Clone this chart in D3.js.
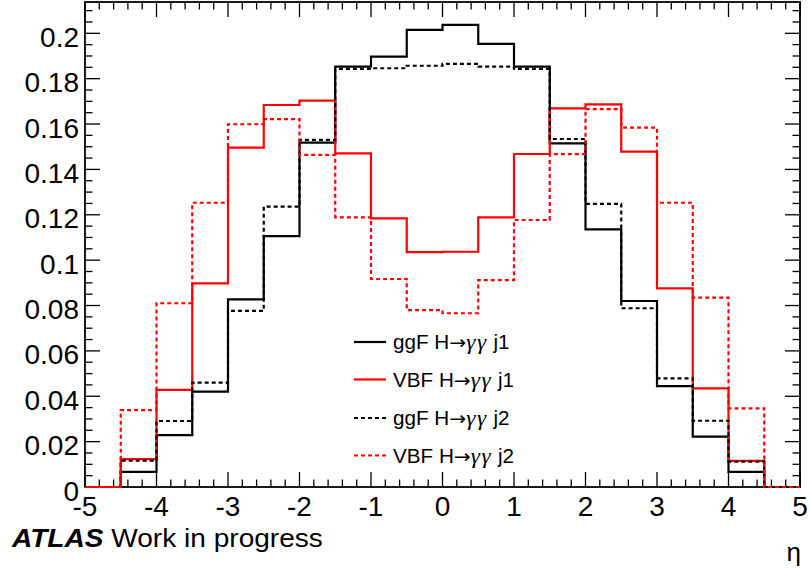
<!DOCTYPE html>
<html>
<head>
<meta charset="utf-8">
<script src="https://cdn.jsdelivr.net/npm/d3@7"></script>
<style>
  html, body { margin: 0; padding: 0; background: #fff; }
  svg { display: block; font-family: "Liberation Sans", Arial, sans-serif; }
</style>
</head>
<body>
<svg id="chart" width="810" height="571"></svg>
<script>
// ---- data ----
const binEdges = [-5, -4.5, -4, -3.5, -3, -2.5, -2, -1.5, -1, -0.5, 0, 0.5, 1, 1.5, 2, 2.5, 3, 3.5, 4, 4.5, 5];
const ggF_j1 = [0, 0.0067, 0.0229, 0.0420, 0.0827, 0.1106, 0.1518, 0.1853, 0.1897, 0.2015, 0.2037, 0.1953, 0.1853, 0.1515, 0.1136, 0.0820, 0.0445, 0.0222, 0.0067, 0];
const VBF_j1 = [0, 0.0123, 0.0428, 0.0898, 0.1496, 0.1684, 0.1703, 0.1471, 0.1184, 0.1035, 0.1037, 0.1189, 0.1468, 0.1669, 0.1687, 0.1478, 0.0876, 0.0435, 0.0115, 0];
const ggF_j2 = [0, 0.0116, 0.0291, 0.0460, 0.0776, 0.1236, 0.1530, 0.1843, 0.1846, 0.1857, 0.1865, 0.1853, 0.1843, 0.1534, 0.1248, 0.0788, 0.0479, 0.0292, 0.0112, 0];
const VBF_j2 = [0, 0.0339, 0.0810, 0.1253, 0.1599, 0.1622, 0.1464, 0.1189, 0.0917, 0.0780, 0.0766, 0.0912, 0.1177, 0.1467, 0.1666, 0.1584, 0.1253, 0.0835, 0.0347, 0];
const seriesProcess = ["ggF", "VBF", "ggF", "VBF"];
const seriesJet = ["j1", "j1", "j2", "j2"];
const xTickLabels = [-5, -4, -3, -2, -1, 0, 1, 2, 3, 4, 5];
const yTickLabels = [0, 0.02, 0.04, 0.06, 0.08, 0.1, 0.12, 0.14, 0.16, 0.18, 0.2];

// ---- layout ----
const L = 85, R = 800, T = 2, B = 487;
const svg = d3.select("#chart");
const x = d3.scaleLinear().domain([-5, 5]).range([L, R]);
const y = d3.scaleLinear().domain([0, 0.2138]).range([B, T]);

const series = [
  { values: ggF_j1, color: "#000", dash: null },
  { values: VBF_j1, color: "#ff0000", dash: null },
  { values: ggF_j2, color: "#000", dash: "4,3" },
  { values: VBF_j2, color: "#ff0000", dash: "4,3" }
];

// ---- axes (ROOT-style ticks on all sides) ----
const axG = svg.append("g").attr("stroke", "#000").attr("stroke-width", 1.3);
const xMinor = d3.range(-5, 5.0001, 0.2);
xMinor.forEach(v => {
  const isMajor = Math.abs(v - Math.round(v)) < 1e-6;
  const len = isMajor ? 15 : 7.5;
  axG.append("line").attr("x1", x(v)).attr("x2", x(v)).attr("y1", B).attr("y2", B - len);
  axG.append("line").attr("x1", x(v)).attr("x2", x(v)).attr("y1", T).attr("y2", T + len);
});
const yMinor = d3.range(0, 0.2101, 0.005);
yMinor.forEach(v => {
  const isMajor = Math.abs(v / 0.02 - Math.round(v / 0.02)) < 1e-6;
  const len = isMajor ? 15 : 7.5;
  axG.append("line").attr("x1", L).attr("x2", L + len).attr("y1", y(v)).attr("y2", y(v));
  axG.append("line").attr("x1", R).attr("x2", R - len).attr("y1", y(v)).attr("y2", y(v));
});
svg.append("rect").attr("x", L).attr("y", T).attr("width", R - L).attr("height", B - T)
  .attr("fill", "none").attr("stroke", "#000").attr("stroke-width", 1.8);

// ---- histograms ----
const clipId = "plotclip";
svg.append("clipPath").attr("id", clipId).append("rect")
  .attr("x", L).attr("y", T).attr("width", R - L).attr("height", B - T + 1.5);

const line = d3.line().x(d => x(d[0])).y(d => y(d[1])).curve(d3.curveStepAfter);
const g = svg.append("g").attr("clip-path", `url(#${clipId})`);
series.forEach(s => {
  const pts = s.values.map((v, i) => [binEdges[i], v]);
  pts.push([binEdges[binEdges.length - 1], s.values[s.values.length - 1]]);
  g.append("path").datum(pts)
    .attr("d", line)
    .attr("fill", "none")
    .attr("stroke", s.color)
    .attr("stroke-width", 2.2)
    .attr("stroke-dasharray", s.dash);
});

// tick labels
svg.append("g").selectAll("text").data(xTickLabels).join("text")
  .attr("x", d => x(d)).attr("y", 516)
  .attr("text-anchor", "middle").attr("font-size", 28).attr("fill", "#000")
  .text(d => String(d));
svg.append("g").selectAll("text").data(yTickLabels).join("text")
  .attr("x", 79).attr("y", d => y(d) + 13.5)
  .attr("text-anchor", "end").attr("font-size", 28).attr("fill", "#000")
  .text(d => String(+d.toFixed(2)));

// axis title
svg.append("text").attr("x", 801).attr("y", 561).attr("text-anchor", "end")
  .attr("font-size", 26).attr("fill", "#000").text("\u03b7");

// ATLAS label
const atl = svg.append("text").attr("transform", "translate(12,546.5) scale(1.08,1)")
  .attr("font-size", 26).attr("fill", "#000");
atl.append("tspan").attr("font-weight", "bold").attr("font-style", "italic").text("ATLAS");
atl.append("tspan").text(" Work in progress");

// legend
const legY = [342, 379.5, 418, 455.5];
const leg = svg.append("g");
series.forEach((s, i) => {
  leg.append("line").attr("x1", 354).attr("x2", 386).attr("y1", legY[i]).attr("y2", legY[i])
    .attr("stroke", s.color).attr("stroke-width", 2.2).attr("stroke-dasharray", s.dash);
  const t = leg.append("text").attr("transform", `translate(393,${legY[i] + 7}) scale(1.06,1)`)
    .attr("font-size", 19.5).attr("fill", "#000");
  t.append("tspan").text(seriesProcess[i] + " H");
  t.append("tspan").attr("font-family", "DejaVu Sans").attr("font-size", 19).text("\u2192");
  t.append("tspan").attr("font-family", "Liberation Serif").attr("font-style", "italic").attr("font-size", 22)
    .attr("letter-spacing", 1.5).text("\u03b3\u03b3");
  t.append("tspan").text(" " + seriesJet[i]);
});
</script>
</body>
</html>
